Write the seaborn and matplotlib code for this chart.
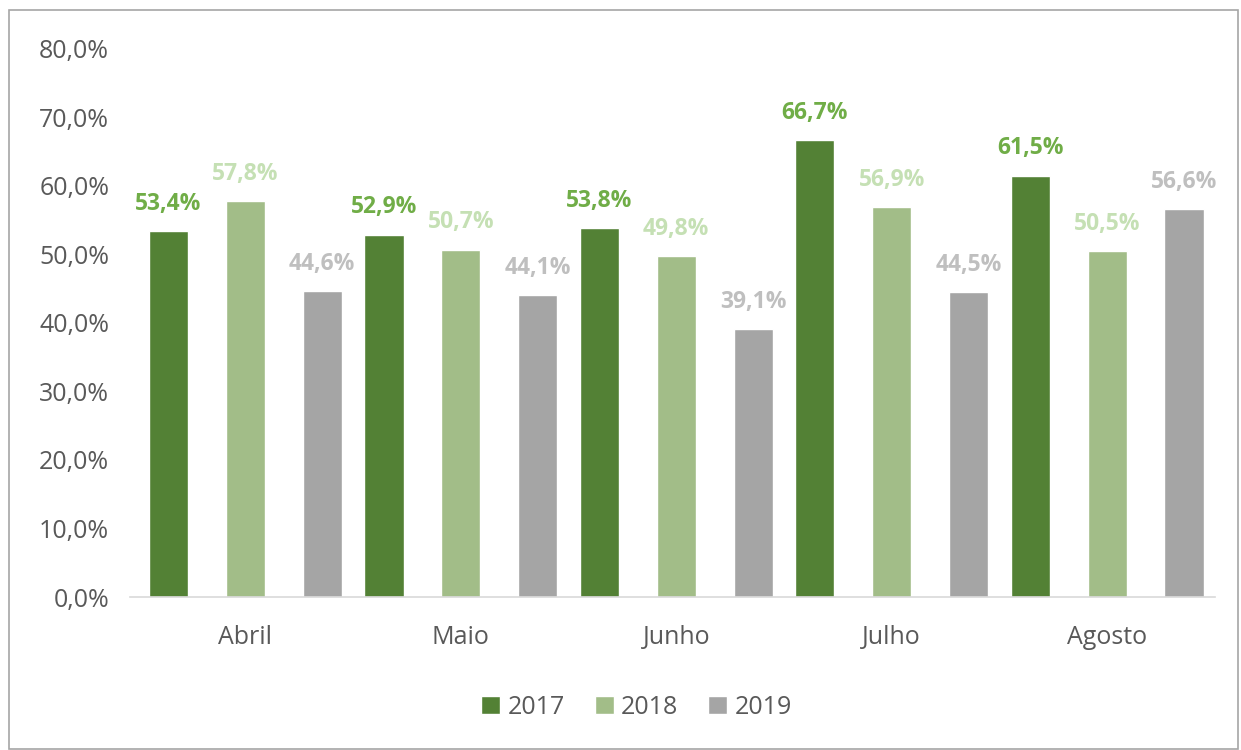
import numpy as np
import pandas as pd
import seaborn as sns
import matplotlib.pyplot as plt
from matplotlib.patches import Rectangle
from matplotlib.ticker import FuncFormatter

meses = ["Abril", "Maio", "Junho", "Julho", "Agosto"]
anos = ["2017", "2018", "2019"]
v2017 = [53.4, 52.9, 53.8, 66.7, 61.5]
v2018 = [57.8, 50.7, 49.8, 56.9, 50.5]
v2019 = [44.6, 44.1, 39.1, 44.5, 56.6]

bar_colors = ["#538135", "#A2BD88", "#A5A5A5"]
label_colors = ["#70AD47", "#C5E0B4", "#BFBFBF"]

df = pd.DataFrame({
    "mes": meses * 3,
    "ano": [a for a in anos for _ in meses],
    "valor": [v / 100 for v in v2017 + v2018 + v2019],
})

sns.set_style("white")
plt.rcParams['font.family'] = ['Open Sans', 'DejaVu Sans']

fig = plt.figure(figsize=(12.41, 7.5), dpi=100)
ax = fig.add_axes([0.1048, 0.204, 0.8742, 0.7307])

sns.barplot(data=df, x="mes", y="valor", hue="ano", order=meses, hue_order=anos,
            palette=bar_colors, width=1.07, gap=0.49, saturation=1, ax=ax,
            legend=True)

for cont, col in zip(ax.containers, label_colors):
    ax.bar_label(cont, labels=[f"{b.get_height()*100:.1f}%".replace(".", ",") for b in cont],
                 padding=11, color=col, fontsize=16.5, fontweight="bold")

ax.set_ylim(0, 0.8)
ax.set_xlim(-0.535, 4.5)
ax.set_yticks(np.arange(0, 0.81, 0.1))
ax.yaxis.set_major_formatter(FuncFormatter(lambda v, p: f"{v*100:.1f}%".replace(".", ",")))
ax.tick_params(axis="both", colors="#595959", labelsize=18, length=0)
ax.tick_params(axis="x", pad=20)
ax.tick_params(axis="y", pad=15)
ax.set_xlabel("")
ax.set_ylabel("")
for s in ["top", "right", "left"]:
    ax.spines[s].set_visible(False)
ax.spines["bottom"].set_color("#D9D9D9")
ax.spines["bottom"].set_linewidth(1.2)

h, l = ax.get_legend_handles_labels()
ax.get_legend().remove()
leg = fig.legend(h, l, loc="center", bbox_to_anchor=(0.513, 0.057), ncol=3, frameon=False,
                 fontsize=18, handlelength=0.75, handleheight=0.75, handletextpad=0.3,
                 columnspacing=1.2)
for t in leg.get_texts():
    t.set_color("#595959")

fig.patches.append(Rectangle((9 / 1241, 0.002), 1229 / 1241, 1 - 10 / 750 - 0.002,
                             transform=fig.transFigure, fill=False, edgecolor="#A6A6A6", lw=1.2))

fig.savefig("out.png", dpi=100)
